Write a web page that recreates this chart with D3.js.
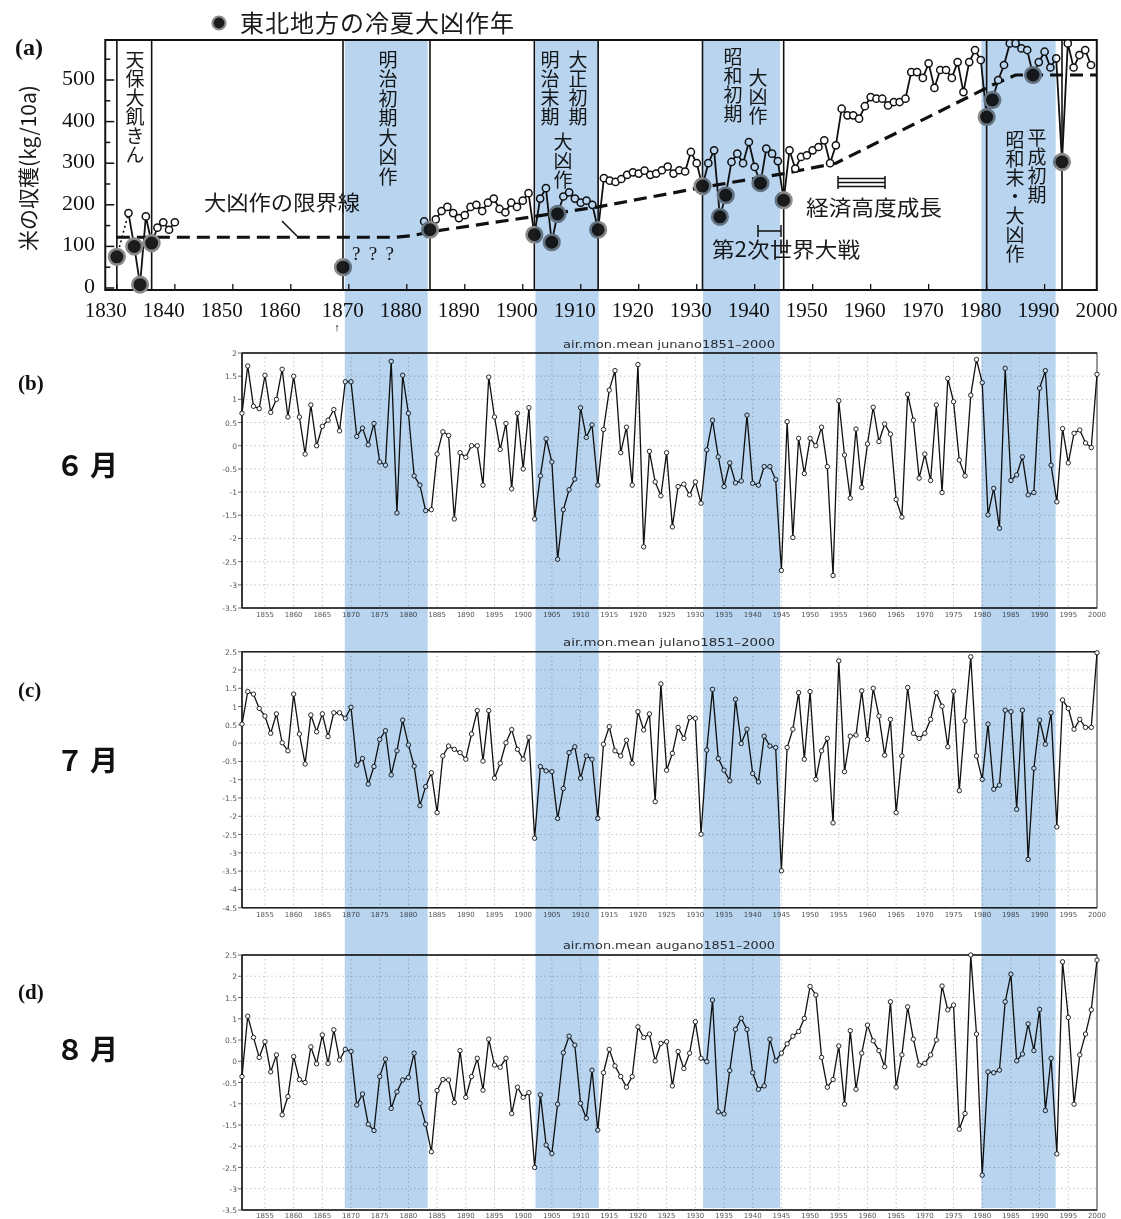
<!DOCTYPE html>
<html><head><meta charset="utf-8">
<script src="https://cdn.jsdelivr.net/npm/d3@7"></script>
<style>body{margin:0;background:#fff;} svg{display:block;}</style>
</head><body>
<svg id="c" width="1121" height="1219"></svg>
<script>
// ---------------- DATA ----------------
// (a) rice yield, Tohoku (kg/10a)
const riceEarlyYears  = [1830, 1832, 1833, 1834, 1835, 1836, 1837, 1838, 1839, 1840];
const riceEarlyValues = [75, 180, 100, 8, 172, 108, 145, 158, 140, 158];
const riceLoneYears   = [1869];
const riceLoneValues  = [50];
const riceMainYears   = d3.range(1883, 1999);
const riceMainValues  = [
  160,140,165,185,195,180,168,
  175,195,200,185,205,215,190,182,205,195,
  210,228,128,215,240,110,178,220,230,215,
  205,210,200,140,264,258,255,262,272,278,
  275,282,272,275,283,292,275,283,280,327,
  300,245,300,331,171,223,303,323,300,351,
  291,252,335,323,305,211,331,287,315,319,
  331,339,355,300,343,431,415,415,407,437,
  459,455,455,439,447,447,455,519,519,505,
  540,481,524,524,505,543,471,543,572,548,
  411,452,500,536,588,588,576,572,512,543,
  568,530,552,303,588,530,560,572,536];
const coldYears = [1830,1833,1834,1836,1869,1884,1902,1905,1906,1913,1931,1934,1935,1941,1945,1980,1981,1988,1993];
const limitYears  = [1830, 1878, 1881, 1884, 1902, 1913, 1931, 1945, 1954, 1981, 1985, 1999];
const limitValues = [122, 122, 126, 135, 172, 195, 242, 275, 300, 488, 512, 512];
const periodLineYears = [1830, 1836, 1869, 1884, 1902, 1913, 1931, 1945, 1980, 1993];
const bandStarts = [1869.3, 1902.2, 1931.1, 1979.1];
const bandEnds   = [1883.6, 1913.1, 1944.4, 1991.9];
const riceYTicks = [0, 100, 200, 300, 400, 500];
const riceXTicks = [1830,1840,1850,1860,1870,1880,1890,1900,1910,1920,1930,1940,1950,1960,1970,1980,1990,2000];

// (b)(c)(d) temperature anomalies 1851-2000
const tempYears = d3.range(1851, 2001);
const juneAnom = [
  0.7,1.72,0.85,0.8,1.52,0.72,1.0,1.65,0.62,1.5,
  0.62,-0.18,0.88,0.0,0.42,0.55,0.78,0.32,1.38,1.38,
  0.2,0.38,0.02,0.48,-0.35,-0.42,1.82,-1.45,1.52,0.7,
  -0.65,-0.85,-1.4,-1.38,-0.18,0.3,0.22,-1.58,-0.15,-0.25,
  0.0,0.0,-0.85,1.48,0.62,-0.08,0.48,-0.93,0.7,-0.5,
  0.82,-1.58,-0.65,0.15,-0.35,-2.45,-1.38,-0.95,-0.72,0.82,
  0.18,0.45,-0.85,0.35,1.2,1.62,-0.15,0.4,-0.85,1.75,
  -2.18,-0.12,-0.78,-1.08,-0.15,-1.75,-0.88,-0.83,-1.06,-0.78,
  -1.24,-0.09,0.55,-0.24,-0.88,-0.37,-0.8,-0.76,0.66,-0.81,
  -0.85,-0.45,-0.45,-0.73,-2.69,0.52,-1.98,0.16,-0.6,0.16,
  0.0,0.4,-0.45,-2.8,0.97,-0.2,-1.13,0.36,-0.9,0.04,
  0.83,0.09,0.47,0.25,-1.16,-1.54,1.11,0.55,-0.7,-0.18,
  -0.75,0.88,-1.01,1.45,0.95,-0.31,-0.65,1.09,1.86,1.36,
  -1.49,-0.92,-1.78,1.67,-0.75,-0.63,-0.24,-1.06,-1.01,1.24,
  1.62,-0.42,-1.21,0.37,-0.37,0.27,0.34,0.06,-0.04,1.54];
const julyAnom = [
  0.52,1.41,1.34,0.95,0.74,0.27,0.8,0.01,-0.21,1.34,
  0.25,-0.57,0.77,0.31,0.8,0.18,0.83,0.83,0.68,0.98,
  -0.6,-0.42,-1.12,-0.64,0.1,0.34,-0.87,-0.21,0.63,-0.05,
  -0.63,-1.71,-1.19,-0.81,-1.9,-0.35,-0.08,-0.17,-0.26,-0.44,
  0.25,0.89,-0.49,0.89,-0.96,-0.55,0.01,0.37,-0.17,-0.44,
  0.16,-2.6,-0.64,-0.76,-0.78,-2.06,-1.24,-0.26,-0.1,-0.96,
  -0.35,-0.44,-2.06,-0.03,0.45,-0.21,-0.35,0.08,-0.55,0.86,
  0.36,0.8,-1.6,1.62,-0.74,-0.28,0.43,0.13,0.7,0.68,
  -2.49,-0.19,1.47,-0.42,-0.74,-1.03,1.2,-0.01,0.38,-0.83,
  -1.06,0.19,-0.08,-0.12,-3.49,-0.12,0.38,1.38,-0.44,1.41,
  -0.99,-0.21,0.13,-2.18,2.25,-0.78,0.19,0.22,1.43,0.1,
  1.5,0.74,-0.33,0.65,-1.9,-0.35,1.52,0.27,0.13,0.27,
  0.65,1.38,1.01,-0.1,1.42,-1.3,0.61,2.36,-0.35,-0.99,
  0.52,-1.26,-1.15,0.9,0.86,-1.81,0.9,-3.18,-0.69,0.63,
  -0.03,0.83,-2.29,1.18,0.95,0.38,0.65,0.43,0.43,2.47];
const augAnom = [
  -0.36,1.06,0.56,0.09,0.46,-0.25,0.15,-1.26,-0.83,0.11,
  -0.43,-0.5,0.34,-0.06,0.62,-0.05,0.74,0.03,0.28,0.23,
  -1.03,-0.77,-1.48,-1.63,-0.36,0.05,-1.11,-0.72,-0.44,-0.38,
  0.19,-0.99,-1.48,-2.13,-0.69,-0.43,-0.44,-0.97,0.25,-0.85,
  -0.36,0.07,-0.68,0.52,-0.09,-0.14,0.07,-1.23,-0.61,-0.85,
  -0.74,-2.5,-0.79,-1.97,-2.17,-1.01,0.2,0.59,0.38,-0.99,
  -1.34,-0.21,-1.62,-0.27,0.28,-0.11,-0.36,-0.61,-0.36,0.81,
  0.56,0.64,0.01,0.42,0.46,-0.58,0.23,-0.17,0.19,0.93,
  0.07,-0.01,1.44,-1.19,-1.24,-0.22,0.75,1.01,0.75,-0.27,
  -0.66,-0.58,0.52,0.01,0.19,0.41,0.59,0.7,1.01,1.76,
  1.56,0.09,-0.61,-0.43,0.36,-1.01,0.72,-0.66,0.19,0.85,
  0.48,0.25,-0.13,1.4,-0.61,0.15,1.28,0.52,-0.09,-0.05,
  0.15,0.5,1.77,1.21,1.32,-1.6,-1.23,2.5,0.64,-2.68,
  -0.25,-0.27,-0.21,1.4,2.05,0.01,0.17,0.88,0.25,1.22,
  -1.16,0.07,-2.18,2.34,1.03,-1.01,0.15,0.64,1.21,2.38];
const tempXTicks = d3.range(1855, 2001, 5);

// ---------------- DRAW ----------------
const svg = d3.select('#c');
const JP = "'Noto Sans CJK JP', sans-serif";
const SERIF = "'Liberation Serif','DejaVu Serif',serif";

// ---- panel (a)
const xa = d3.scaleLinear([1869, 1993], [343, 1062]);
const ya = d3.scaleLinear([0, 600], [288, 38.4]);
const ax0 = xa(1828), ax1 = xa(1999), ay0 = 40, ay1 = 290;
const ga = svg.append('g');

ga.append('rect').attr('x', ax0).attr('y', ay0).attr('width', ax1-ax0).attr('height', ay1-ay0)
  .attr('fill', 'none').attr('stroke', '#111').attr('stroke-width', 2);
d3.range(0, 600, 50).forEach(v => {
  ga.append('line').attr('x1', ax0).attr('x2', ax0 + (v % 100 === 0 ? 9 : 5))
    .attr('y1', ya(v)).attr('y2', ya(v)).attr('stroke', '#111').attr('stroke-width', 1.5);
});
riceYTicks.forEach(v => {
  ga.append('text').attr('x', 95).attr('y', ya(v) + 5).attr('text-anchor', 'end')
    .attr('font-family', SERIF).attr('font-size', 22).attr('fill', '#111').text(v);
});
riceXTicks.forEach(t => {
  if (t < 2000) ga.append('line').attr('x1', xa(t)).attr('x2', xa(t)).attr('y1', ay1).attr('y2', ay1 - 6)
    .attr('stroke', '#111').attr('stroke-width', 1.3);
  ga.append('text').attr('x', xa(t) - (t < 1870 ? 11 : 6)).attr('y', 317).attr('text-anchor', 'middle')
    .attr('font-family', SERIF).attr('font-size', 21).attr('fill', '#111').text(t);
});
ga.append('text').attr('x', 337).attr('y', 331).attr('text-anchor', 'middle')
  .attr('font-family', SERIF).attr('font-size', 11).attr('font-weight', 'bold').text('↑');

periodLineYears.forEach(y => {
  ga.append('line').attr('x1', xa(y)).attr('x2', xa(y)).attr('y1', ay0).attr('y2', ay1)
    .attr('stroke', '#111').attr('stroke-width', 1.6);
});
ga.append('path').datum(limitYears.map((y, i) => [y, limitValues[i]]))
  .attr('d', d3.line().x(d => xa(d[0])).y(d => ya(d[1])))
  .attr('fill', 'none').attr('stroke', '#111').attr('stroke-width', 3.2).attr('stroke-dasharray', '13 7');

const lineA = d3.line().x(d => xa(d[0])).y(d => ya(d[1]));
const early = riceEarlyYears.map((y, i) => [y, riceEarlyValues[i]]);
const main = riceMainYears.map((y, i) => [y, riceMainValues[i]]);
ga.append('path').datum(early.slice(0, 2)).attr('d', lineA).attr('fill', 'none')
  .attr('stroke', '#111').attr('stroke-width', 1.6).attr('stroke-dasharray', '2 3');
ga.append('path').datum(early.slice(1)).attr('d', lineA).attr('fill', 'none')
  .attr('stroke', '#111').attr('stroke-width', 1.8);
ga.append('path').datum(main).attr('d', lineA).attr('fill', 'none')
  .attr('stroke', '#111').attr('stroke-width', 1.8);
const allPts = early.concat(riceLoneYears.map((y, i) => [y, riceLoneValues[i]]), main);
allPts.filter(d => !coldYears.includes(d[0])).forEach(d => {
  ga.append('circle').attr('cx', xa(d[0])).attr('cy', ya(d[1])).attr('r', 3.6)
    .attr('fill', '#fff').attr('stroke', '#111').attr('stroke-width', 1.5);
});
allPts.filter(d => coldYears.includes(d[0])).forEach(d => {
  ga.append('circle').attr('cx', xa(d[0])).attr('cy', ya(d[1])).attr('r', 7.8)
    .attr('fill', '#1c1c1c').attr('stroke', '#8a8a8a').attr('stroke-width', 2.6);
});

function vtext(str, x, top, size, step) {
  ga.append('text').attr('x', x).attr('y', top)
    .style('writing-mode', 'vertical-rl').style('glyph-orientation-vertical', '0')
    .attr('font-family', JP).attr('font-size', size).attr('letter-spacing', step - size)
    .attr('fill', '#1a1a1a').text(str);
}
vtext('天保大飢きん', 135, 50, 19, 19);
vtext('明治初期大凶作', 388, 50, 19, 19.5);
vtext('明治末期', 550, 50, 19, 19);
vtext('大凶作', 563, 132, 19, 19);
vtext('大正初期', 578, 50, 19, 19);
vtext('昭和初期', 733, 47, 19, 19);
vtext('大凶作', 758, 68, 19, 19);
vtext('平成初期', 1037, 128, 19, 19);
vtext('昭和末・大凶作', 1015, 130, 19, 19);

function htext(str, x, y, size, len) {
  const t = ga.append('text').attr('x', x).attr('y', y).attr('font-family', JP).attr('font-size', size)
    .attr('fill', '#1a1a1a').text(str);
  if (len) t.attr('textLength', len).attr('lengthAdjust', 'spacingAndGlyphs');
}
htext('大凶作の限界線', 204, 210, 21, 156);
ga.append('line').attr('x1', 282).attr('y1', 221).attr('x2', 297).attr('y2', 236).attr('stroke', '#111').attr('stroke-width', 1.5);
ga.append('text').attr('x', 352).attr('y', 260).attr('font-family', SERIF).attr('font-size', 19)
  .attr('textLength', 42).attr('fill', '#1a1a1a').text('? ? ?');
htext('経済高度成長', 806, 215, 21, 136);
htext('第2次世界大戦', 712, 257, 21, 148);
[178.5, 182.5, 186.5].forEach(y => ga.append('line').attr('x1', 838).attr('x2', 885).attr('y1', y).attr('y2', y).attr('stroke', '#111').attr('stroke-width', 1.3));
[838, 885].forEach(x => ga.append('line').attr('x1', x).attr('x2', x).attr('y1', 176).attr('y2', 189).attr('stroke', '#111').attr('stroke-width', 1.5));
ga.append('line').attr('x1', 758).attr('x2', 781).attr('y1', 231).attr('y2', 231).attr('stroke', '#111').attr('stroke-width', 1.5);
[758, 781].forEach(x => ga.append('line').attr('x1', x).attr('x2', x).attr('y1', 225).attr('y2', 237).attr('stroke', '#111').attr('stroke-width', 1.5));

ga.append('circle').attr('cx', 219).attr('cy', 23).attr('r', 6.5).attr('fill', '#1c1c1c').attr('stroke', '#8a8a8a').attr('stroke-width', 2.2);
ga.append('text').attr('x', 240).attr('y', 32).attr('font-family', JP).attr('font-size', 24)
  .attr('textLength', 274).attr('fill', '#1a1a1a').text('東北地方の冷夏大凶作年');
ga.append('text').attr('transform', 'translate(36,168) rotate(-90)').attr('text-anchor', 'middle')
  .attr('font-family', JP).attr('font-size', 21).attr('fill', '#1a1a1a').text('米の収穫(kg/10a)');

const sideLabels = [['(a)', 15, 55, 24], ['(b)', 18, 390, 21], ['(c)', 18, 697, 21], ['(d)', 18, 999, 21]];
sideLabels.forEach(s => svg.append('text').attr('x', s[1]).attr('y', s[2]).attr('font-family', SERIF)
  .attr('font-weight', 'bold').attr('font-size', s[3]).attr('fill', '#111').text(s[0]));
const monthLabels = [['６月', 476], ['７月', 771], ['８月', 1060]];
monthLabels.forEach(m => svg.append('text').attr('x', 56).attr('y', m[1]).attr('font-family', JP)
  .attr('font-weight', 'bold').attr('font-size', 28).attr('letter-spacing', 6).attr('fill', '#111').text(m[0]));

// ---- panels (b)(c)(d)
const xt = d3.scaleLinear([1851, 2000], [242, 1097]);
function fmt(v) { return String(Math.round(v * 10) / 10); }
function tempPanel(vals, dom, top, bottom, title, titleY) {
  const y = d3.scaleLinear(dom, [bottom, top]);
  const g = svg.append('g');
  const yt = d3.range(dom[0], dom[1] + 0.01, 0.5);
  yt.forEach(v => {
    if (v > dom[0] && v < dom[1]) g.append('line').attr('x1', 242).attr('x2', 1097).attr('y1', y(v)).attr('y2', y(v))
      .attr('stroke', '#aaa').attr('stroke-width', 0.8).attr('stroke-dasharray', '1.2 3');
    g.append('line').attr('x1', 238).attr('x2', 242).attr('y1', y(v)).attr('y2', y(v)).attr('stroke', '#444').attr('stroke-width', 0.8);
    g.append('text').attr('x', 237).attr('y', y(v) + 3).attr('text-anchor', 'end').attr('font-family', 'DejaVu Sans')
      .attr('font-size', 7.5).attr('fill', '#555').text(fmt(v));
  });
  tempXTicks.forEach(t => {
    if (t < 2000) g.append('line').attr('x1', xt(t)).attr('x2', xt(t)).attr('y1', top).attr('y2', bottom)
      .attr('stroke', '#aaa').attr('stroke-width', 0.8).attr('stroke-dasharray', '1.2 3');
    g.append('text').attr('x', xt(t)).attr('y', Math.min(bottom + 9, 1218)).attr('text-anchor', 'middle').attr('font-family', 'DejaVu Sans')
      .attr('font-size', 7).attr('fill', '#555').text(t);
  });
  g.append('rect').attr('x', 242).attr('y', top).attr('width', 1097 - 242).attr('height', bottom - top)
    .attr('fill', 'none').attr('stroke', '#333').attr('stroke-width', 1);
  g.append('line').attr('x1', 242).attr('x2', 242).attr('y1', top).attr('y2', bottom).attr('stroke', '#222').attr('stroke-width', 1.6);
  g.append('line').attr('x1', 242).attr('x2', 1097).attr('y1', bottom).attr('y2', bottom).attr('stroke', '#222').attr('stroke-width', 1.6);
  g.append('line').attr('x1', 242).attr('x2', 1097).attr('y1', top).attr('y2', top).attr('stroke', '#222').attr('stroke-width', 1.4);
  const pts = tempYears.map((yr, i) => [yr, vals[i]]);
  g.append('path').datum(pts).attr('d', d3.line().x(d => xt(d[0])).y(d => y(d[1])))
    .attr('fill', 'none').attr('stroke', '#111').attr('stroke-width', 1.3);
  pts.forEach(d => g.append('circle').attr('cx', xt(d[0])).attr('cy', y(d[1])).attr('r', 2.2)
    .attr('fill', '#fff').attr('stroke', '#111').attr('stroke-width', 0.9));
  g.append('text').attr('x', 563).attr('y', titleY).attr('font-family', 'DejaVu Sans').attr('font-size', 11)
    .attr('textLength', 212).attr('lengthAdjust', 'spacingAndGlyphs').attr('fill', '#333').text(title);
}
tempPanel(juneAnom, [-3.5, 2], 353, 608, 'air.mon.mean  junano1851\u20132000', 348);
tempPanel(julyAnom, [-4.5, 2.5], 651.7, 907.7, 'air.mon.mean  julano1851\u20132000', 646);
tempPanel(augAnom, [-3.5, 2.5], 955, 1210, 'air.mon.mean  augano1851\u20132000', 949);

const gb = svg.append('g').style('mix-blend-mode', 'multiply');
bandStarts.forEach((s, i) => {
  gb.append('rect').attr('x', xa(s)).attr('y', 40).attr('width', xa(bandEnds[i]) - xa(s)).attr('height', 1208 - 40)
    .attr('fill', '#b9d4ee');
});
</script>
</body></html>
